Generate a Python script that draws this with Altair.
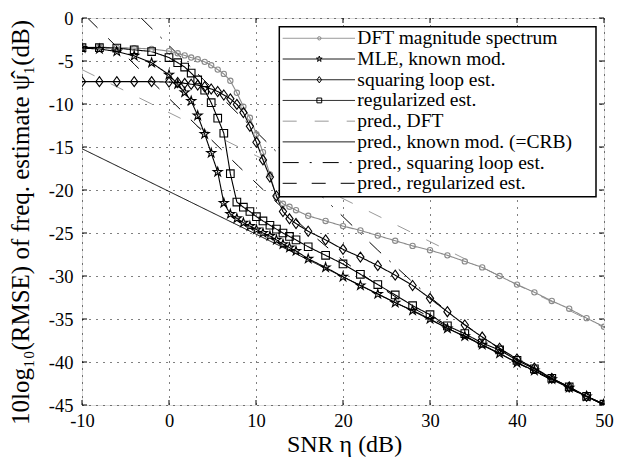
import altair as alt
import pandas as pd

# ---------------- data ----------------
SNR = [-10, -8, -6, -4, -2, 0,
       1.0, 1.8, 2.55, 3.3, 4.1, 4.85, 5.6, 6.3, 7.05, 7.8, 8.55, 9.3, 10.05, 10.8,
       11.6, 12.35, 13.1, 13.85, 14.6,
       16, 18, 20, 22, 24, 26, 28, 30, 32, 34, 36, 38, 40, 42, 44, 46, 48, 50]

DFT = [-3.4, -3.4, -3.45, -3.5, -3.6, -3.85,
       -4.1, -4.35, -4.6, -4.8, -5.1, -5.5, -6.0, -6.5, -7.3, -8.7, -10.3, -11.6, -13.5, -15.6,
       -18.2, -20.8, -21.6, -21.95, -22.35,
       -23.0, -23.6, -24.2, -24.7, -25.3, -25.9, -26.5, -27.0, -27.6, -28.3, -29.0, -30.0,
       -31.0, -31.9, -32.9, -33.8, -34.9, -35.9]

MLE = [-3.5, -3.6, -3.9, -4.4, -5.2, -6.6,
       -7.7, -8.65, -9.65, -11.35, -13.5, -15.7, -17.9, -21.5, -22.8, -23.3, -23.8, -24.2, -24.6, -25.0,
       -25.35, -25.8, -26.3, -26.7, -27.1,
       -28.0, -29.0, -30.1, -31.1, -32.1, -33.1, -34.0, -35.0, -36.1, -37.0, -38.0, -39.0,
       -40.1, -41.0, -42.0, -43.0, -44.0, -44.9]

SQL = [-7.4, -7.4, -7.4, -7.4, -7.4, -7.45,
       -7.5, -7.6, -7.7, -7.8, -8.0, -8.25, -8.55, -8.95, -9.4, -10.05, -11.0, -12.6, -14.45, -16.5,
       -18.5, -20.7, -22.5, -23.35, -23.9,
       -24.8, -25.8, -26.9, -27.8, -28.8, -29.9, -31.1, -32.6, -34.15, -35.7, -37.1, -38.4,
       -39.65, -40.7, -41.9, -42.9, -44.0, -44.9]

REG = [-3.45, -3.45, -3.5, -3.7, -3.9, -4.6,
       -5.2, -5.7, -6.4, -7.2, -8.4, -9.85, -11.65, -13.4, -18.1, -21.4, -22.0, -22.5, -23.1, -23.6,
       -24.1, -24.55, -25.0, -25.4, -25.8,
       -26.6, -27.6, -28.6, -29.8, -31.0, -32.2, -33.45, -34.5, -35.8, -36.7, -37.8, -38.6,
       -39.8, -40.8, -41.9, -42.9, -44.0, -44.9]

PRED_DFT_X = [-10, 50]
PRED_DFT_Y = [-6.0, -36.0]
PRED_CRB_X = [-10, 50]
PRED_CRB_Y = [-15.2, -45.0]
PRED_SQL_X = [-3.2, 0, 4, 8, 12, 14, 16, 18, 20, 22, 24, 26, 28, 30, 32, 34, 36, 38, 40, 42, 44, 46, 48, 50]
PRED_SQL_Y = [0, -3.2, -7.2, -11.2, -15.2, -17.2, -19.2, -21.15, -23.1, -25.05, -27.0, -28.85, -30.7,
              -32.45, -34.1, -35.65, -37.1, -38.45, -39.65, -40.8, -41.9, -42.95, -44.0, -45.0]
PRED_REG_X = [-9.36, -8, -4, 0, 4, 8, 12, 16, 18, 20, 24, 28, 32, 36, 40, 45, 50]
PRED_REG_Y = [0, -1.36, -5.36, -9.35, -13.3, -17.25, -21.1, -24.8, -26.5, -28.2, -31.1, -33.7,
              -35.9, -38.0, -40.1, -42.6, -45.0]

SERIES = ["DFT magnitude spectrum", "MLE, known mod.", "squaring loop est.", "regularized est.",
          "pred., DFT", "pred., known mod. (=CRB)", "pred., squaring loop est.", "pred., regularized est."]
COLORS = ["#8a8a8a", "#000000", "#000000", "#000000", "#9a9a9a", "#000000", "#000000", "#000000"]
DASHES = [[1, 0], [1, 0], [1, 0], [1, 0], [14, 18], [1, 0], [16, 11, 2, 11], [14, 15]]

XTICKS = [-10, 0, 10, 20, 30, 40, 50]
YTICKS = [0, -5, -10, -15, -20, -25, -30, -35, -40, -45]

STAR = "M0,-1L0.223,-0.307L0.951,-0.309L0.361,0.117L0.588,0.809L0,0.38L-0.588,0.809L-0.361,0.117L-0.951,-0.309L-0.223,-0.307Z"
DIAM = "M0,-1L0.72,0L0,1L-0.72,0Z"

# ---------------- tables ----------------
def series_df(xs, ys, name):
    return pd.DataFrame({"x": xs, "y": ys, "series": name})

meas = {
    SERIES[0]: series_df(SNR, DFT, SERIES[0]),
    SERIES[1]: series_df(SNR, MLE, SERIES[1]),
    SERIES[2]: series_df(SNR, SQL, SERIES[2]),
    SERIES[3]: series_df(SNR, REG, SERIES[3]),
}
pred_df = pd.concat([
    series_df(PRED_DFT_X, PRED_DFT_Y, SERIES[4]),
    series_df(PRED_CRB_X, PRED_CRB_Y, SERIES[5]),
    series_df(PRED_SQL_X, PRED_SQL_Y, SERIES[6]),
    series_df(PRED_REG_X, PRED_REG_Y, SERIES[7]),
])
meas_df = pd.concat([meas[SERIES[0]], meas[SERIES[2]], meas[SERIES[3]], meas[SERIES[1]]])

FONT = "Liberation Serif"
W, H = 522, 387

AX = alt.Axis(values=XTICKS, title="SNR η (dB)", grid=True, gridDash=[1, 6], gridColor="#000",
              gridWidth=1, ticks=False, domain=False, labelFont=FONT, labelFontSize=18.5,
              labelColor="#000", labelPadding=6, labelFlush=False, labelExpr="'' + datum.value",
              titleFont=FONT, titleFontSize=24, titleFontWeight="normal", titleColor="#000",
              titleX=262, titleY=46, titleBaseline="alphabetic")
AY = alt.Axis(values=YTICKS, title="10log₁₀(RMSE) of freq. estimate ψ̂₁(dB)", grid=True,
              gridDash=[1, 6], gridColor="#000", gridWidth=1, ticks=False, domain=False,
              labelFont=FONT, labelFontSize=18.5, labelColor="#000", labelPadding=9,
              labelFlush=False, labelExpr="'' + datum.value", titleFont=FONT, titleFontSize=25,
              titleFontWeight="normal", titleColor="#000", titleX=-54, titleY=204,
              titleBaseline="alphabetic", titleAlign="center")

XS = alt.Scale(domain=[-10, 50], nice=False, zero=False)
YS = alt.Scale(domain=[-45, 0], nice=False, zero=False)
X = alt.X("x:Q", scale=XS, axis=AX)
Y = alt.Y("y:Q", scale=YS, axis=AY)
C = alt.Color("series:N", scale=alt.Scale(domain=SERIES, range=COLORS), legend=None)
D = alt.StrokeDash("series:N", scale=alt.Scale(domain=SERIES, range=DASHES), legend=None)

pred_lines = alt.Chart(pred_df).mark_line(strokeWidth=1, clip=True).encode(
    x=X, y=Y, color=C, strokeDash=D, detail="series:N")
meas_lines = alt.Chart(meas_df).mark_line(strokeWidth=1.1, clip=True).encode(
    x=X, y=Y, color=C, strokeDash=D, detail="series:N")

MARK = {
    SERIES[0]: ("circle", 28, COLORS[0]),
    SERIES[2]: (DIAM, 100, "#000"),
    SERIES[3]: ("square", 58, "#000"),
    SERIES[1]: (STAR, 90, "#000"),
}
point_layers = []
for name in [SERIES[0], SERIES[2], SERIES[3], SERIES[1]]:
    shp, sz, col = MARK[name]
    point_layers.append(
        alt.Chart(meas[name]).mark_point(shape=shp, size=sz, filled=False, color=col,
                                         strokeWidth=1.1, opacity=1, clip=True)
        .encode(x=X, y=Y))

tx = pd.DataFrame({"x": XTICKS})
ty = pd.DataFrame({"y": YTICKS})
tick_b = alt.Chart(tx).mark_rule(color="#000", strokeWidth=1).encode(x=X, y=alt.value(H), y2=alt.value(H - 5))
tick_t = alt.Chart(tx).mark_rule(color="#000", strokeWidth=1).encode(x=X, y=alt.value(0), y2=alt.value(5))
tick_l = alt.Chart(ty).mark_rule(color="#000", strokeWidth=1).encode(y=Y, x=alt.value(0), x2=alt.value(5))
tick_r = alt.Chart(ty).mark_rule(color="#000", strokeWidth=1).encode(y=Y, x=alt.value(W), x2=alt.value(W - 5))

data_layer = alt.layer(pred_lines, meas_lines, *point_layers, tick_b, tick_t, tick_l, tick_r)

# ---------------- legend ----------------
leg_df = pd.DataFrame({"series": SERIES})
LY = alt.Y("series:N", scale=alt.Scale(type="point", domain=SERIES, range=[20.3, 165.3], padding=0),
           axis=None)
box = alt.Chart(pd.DataFrame({"k": [0]})).mark_rect(fill="white", stroke="#000", strokeWidth=1.5).encode(
    x=alt.value(197.3), x2=alt.value(514), y=alt.value(8.7), y2=alt.value(178.7))
leg_rules = alt.Chart(leg_df).mark_rule(strokeWidth=1).encode(
    x=alt.value(200.7), x2=alt.value(273), y=LY, color=C, strokeDash=D)
leg_pts = []
for name in [SERIES[0], SERIES[1], SERIES[2], SERIES[3]]:
    shp, sz, col = MARK[name]
    leg_pts.append(
        alt.Chart(pd.DataFrame({"series": [name]})).mark_point(
            shape=shp, size=sz * 0.4, filled=False, color=col, strokeWidth=1, opacity=1)
        .encode(x=alt.value(237.3), y=LY))
leg_text = alt.Chart(leg_df).mark_text(align="left", baseline="middle", font=FONT, fontSize=19.5,
                                       color="#000").encode(x=alt.value(275.3), y=LY, text="series:N")
legend_layer = alt.layer(box, leg_rules, *leg_pts, leg_text)

chart = alt.layer(data_layer, legend_layer).resolve_scale(y="independent").properties(
    width=W, height=H,
    autosize=alt.AutoSizeParams(type="none"),
    padding={"left": 82, "top": 18, "right": 26, "bottom": 52},
).configure_view(stroke="#000", strokeWidth=1.5).configure(background="white")

chart.save("out.html", embed_options={"renderer": "svg", "actions": False})
